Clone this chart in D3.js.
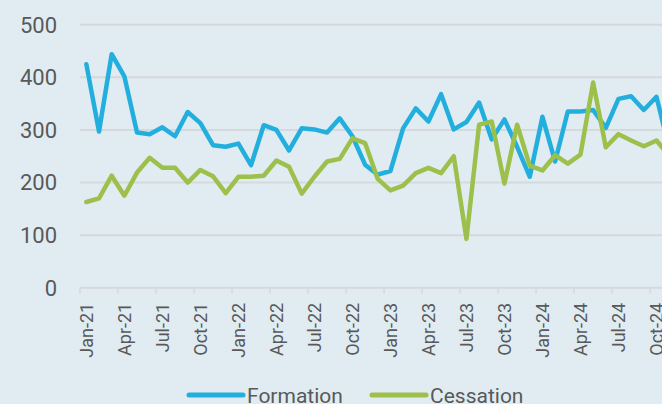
<!DOCTYPE html>
<head>
  <meta charset="utf-8">
  <style>
    html, body { margin: 0; padding: 0; background: #e0ecf2; }
    body { font-family: "Roboto"; }
    svg { display: block; }
  </style>
</head>
<svg width="662" height="404"></svg>
<script src="https://d3js.org/d3.v7.min.js"></script>
<script>
  // monthly counts, Jan-21 .. Nov-24 (chart is cut off at the right edge)
  const months = [
    "Jan-21","Feb-21","Mar-21","Apr-21","May-21","Jun-21","Jul-21","Aug-21","Sep-21","Oct-21","Nov-21","Dec-21",
    "Jan-22","Feb-22","Mar-22","Apr-22","May-22","Jun-22","Jul-22","Aug-22","Sep-22","Oct-22","Nov-22","Dec-22",
    "Jan-23","Feb-23","Mar-23","Apr-23","May-23","Jun-23","Jul-23","Aug-23","Sep-23","Oct-23","Nov-23","Dec-23",
    "Jan-24","Feb-24","Mar-24","Apr-24","May-24","Jun-24","Jul-24","Aug-24","Sep-24","Oct-24","Nov-24"
  ];
  const formation = [
    425, 297, 444, 402, 295, 292, 305, 288, 334, 313, 271, 268,
    274, 233, 309, 300, 261, 303, 301, 295, 322, 288, 234, 215,
    222, 303, 341, 316, 368, 301, 315, 352, 282, 320, 268, 211,
    325, 240, 335, 335, 338, 304, 359, 364, 338, 363, 265
  ];
  const cessation = [
    163, 170, 213, 175, 219, 247, 228, 228, 200, 224, 212, 180,
    211, 211, 213, 242, 230, 179, 211, 240, 245, 284, 275, 207,
    185, 194, 218, 228, 218, 250, 93, 310, 316, 198, 310, 232,
    223, 252, 236, 253, 390, 267, 292, 280, 269, 280, 251
  ];
  const yTicks = [0, 100, 200, 300, 400, 500];
  const seriesNames = ["Formation", "Cessation"];
  const colors = ["#23afdd", "#9cc04b"];

  const svg = d3.select("svg");
  const left = 80, step = 12.67;

  const x = d3.scaleBand()
    .domain(months)
    .range([left, left + months.length * step])
    .padding(0);

  const y = d3.scaleLinear()
    .domain([0, 500])
    .range([287.8, 24.7]);

  // gridlines
  svg.append("g")
    .selectAll("line")
    .data(yTicks.slice(1))
    .enter().append("line")
    .attr("x1", left)
    .attr("x2", 700)
    .attr("y1", d => y(d))
    .attr("y2", d => y(d))
    .style("stroke", "#d6d9db")
    .style("stroke-width", 2);

  // y labels
  svg.append("g")
    .selectAll("text")
    .data(yTicks)
    .enter().append("text")
    .attr("x", 57)
    .attr("y", d => y(d))
    .attr("dy", "0.36em")
    .attr("text-anchor", "end")
    .style("font-size", "22px")
    .style("fill", "#595959")
    .text(d => d);

  // x axis
  const xAxis = svg.append("g");
  xAxis.append("line")
    .attr("x1", left).attr("x2", 700)
    .attr("y1", y(0)).attr("y2", y(0))
    .style("stroke", "#d6d9db")
    .style("stroke-width", 2);

  const shown = months.filter((d, i) => i % 3 === 0);
  xAxis.selectAll(".tick")
    .data(shown)
    .enter().append("line")
    .attr("x1", d => x(d)).attr("x2", d => x(d))
    .attr("y1", y(0)).attr("y2", y(0) + 6)
    .style("stroke", "#d6d9db")
    .style("stroke-width", 1.5);

  xAxis.selectAll("text")
    .data(shown)
    .enter().append("text")
    .attr("transform", d => "translate(" + (x(d) + x.bandwidth() / 2) + "," + (y(0) + 15) + ") rotate(-90)")
    .attr("dy", "0.36em")
    .attr("text-anchor", "end")
    .style("font-size", "18px")
    .style("fill", "#595959")
    .text(d => d);

  // lines
  const line = d3.line()
    .x((d, i) => x(months[i]) + x.bandwidth() / 2)
    .y(d => y(d));

  [formation, cessation].forEach(function(vals, k) {
    svg.append("path")
      .datum(vals)
      .attr("d", line)
      .style("fill", "none")
      .style("stroke", colors[k])
      .style("stroke-width", 4.5)
      .style("stroke-linejoin", "round")
      .style("stroke-linecap", "round");
  });

  // legend
  const legend = svg.append("g");
  const lx = [189, 372];
  seriesNames.forEach(function(name, k) {
    legend.append("line")
      .attr("x1", lx[k]).attr("x2", lx[k] + 54)
      .attr("y1", 395).attr("y2", 395)
      .style("stroke", colors[k])
      .style("stroke-width", 5)
      .style("stroke-linecap", "round");
    legend.append("text")
      .attr("x", lx[k] + 58)
      .attr("y", 395)
      .attr("dy", "0.36em")
      .style("font-size", "21px")
      .style("fill", "#595959")
      .text(name);
  });
</script>
